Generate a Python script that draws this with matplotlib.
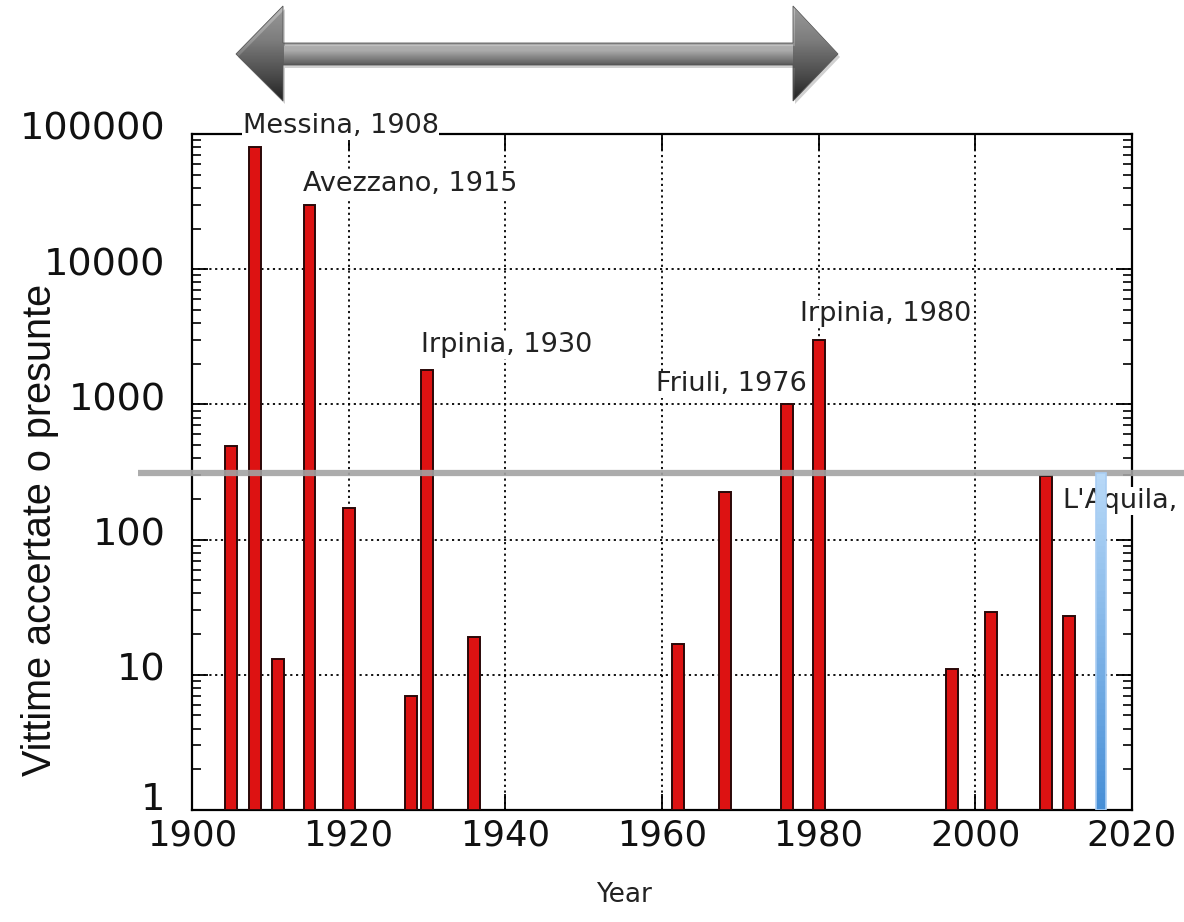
import numpy as np
import matplotlib
matplotlib.use("Agg")
import matplotlib.pyplot as plt
from matplotlib.patches import Polygon
from matplotlib.transforms import blended_transform_factory, ScaledTranslation
from matplotlib.ticker import LogLocator, NullFormatter, FixedLocator

# ---------------- data ----------------
years = [1905, 1908, 1911, 1915, 1920, 1928, 1930, 1936, 1962, 1968,
         1976, 1980, 1997, 2002, 2009, 2012]
victims = [490, 80000, 13, 30000, 170, 7, 1800, 19, 17, 225,
           1000, 3000, 11, 29, 295, 27]

recent_year = 2016
recent_victims = 310
threshold = 310

label_names = ["Messina, 1908", "Avezzano, 1915", "Irpinia, 1930",
               "Friuli, 1976", "Irpinia, 1980", "L'Aquila,"]
label_years = [1908, 1915, 1930, 1976, 1980, 2009]

x_ticks = [1900, 1920, 1940, 1960, 1980, 2000, 2020]
y_ticks = [1, 10, 100, 1000, 10000, 100000]
y_ticklabels = ["1", "10", "100", "1000", "10000", "100000"]

# ---------------- figure ----------------
W, H = 1184, 922
fig = plt.figure(figsize=(W / 100, H / 100), dpi=100)
ax = fig.add_axes([192 / W, 1 - 810 / H, (1132 - 192) / W, (810 - 134) / H])

ax.set_yscale("log")
ax.set_xlim(1900, 2020)
ax.set_ylim(1, 100000)

# red bars
ax.bar(years, [v - 1 for v in victims], bottom=1, width=1.5,
       color="#dd1212", edgecolor="#2a0808", linewidth=1.4, zorder=3)

# blue gradient bar (recent event)
n_seg = 60
edges = np.logspace(0, np.log10(recent_victims), n_seg + 1)
c_bot = np.array([0.28, 0.56, 0.84])
c_top = np.array([0.72, 0.85, 0.97])
for i in range(n_seg):
    t = i / (n_seg - 1)
    col = c_bot * (1 - t) + c_top * t
    ax.bar([recent_year], [edges[i + 1] - edges[i]], bottom=edges[i], width=1.3,
           color=col, linewidth=0, zorder=6)
ax.bar([recent_year], [recent_victims - 1], bottom=1, width=1.3,
       facecolor="none", edgecolor="#a9cdf3", linewidth=1.2, zorder=6.1)

# grey threshold line, extending beyond the axes to the figure edge
trans = blended_transform_factory(fig.transFigure, ax.transData)
ax.plot([138 / W, 1.0], [threshold, threshold], transform=trans, color="#a3a3a3",
        linewidth=4.5, alpha=0.9, solid_capstyle="butt", clip_on=False, zorder=5)

# grid
ax.xaxis.set_major_locator(FixedLocator(x_ticks))
ax.yaxis.set_major_locator(FixedLocator(y_ticks))
ax.yaxis.set_minor_locator(LogLocator(base=10, subs=np.arange(2, 10)))
ax.yaxis.set_minor_formatter(NullFormatter())
ax.set_yticklabels(y_ticklabels)
ax.set_xticklabels([str(t) for t in x_ticks])
ax.grid(True, which="major", linestyle=(0, (1.2, 2.0)), color="black",
        linewidth=1.3, zorder=1)
ax.set_axisbelow(True)

for sp in ax.spines.values():
    sp.set_linewidth(1.6)

ax.tick_params(axis="both", which="major", direction="in", length=11.5, width=1.3,
               top=True, right=True)
ax.tick_params(axis="both", which="minor", direction="in", length=6.5, width=1.2,
               top=False, right=True)
ax.tick_params(axis="y", which="major", pad=19)
ax.tick_params(axis="x", which="major", pad=6)
for lab in ax.get_yticklabels():
    lab.set_fontfamily("DejaVu Sans")
    lab.set_fontsize(27.5)
    lab.set_color("#111111")
    up = 14 if lab.get_text() == "1" else 8
    lab.set_transform(lab.get_transform() +
                      ScaledTranslation(0, up / 100, fig.dpi_scale_trans))
for lab in ax.get_xticklabels():
    lab.set_fontfamily("DejaVu Sans")
    lab.set_fontsize(25.5)
    lab.set_color("#111111")

# annotations
vals = dict(zip(years, victims))
offsets = {
    "Messina, 1908": (-12, 21, "left"),
    "Avezzano, 1915": (-6, 21, "left"),
    "Irpinia, 1930": (-6, 25, "left"),
    "Friuli, 1976": (20, 20, "right"),
    "Irpinia, 1980": (-19, 26, "left"),
    "L'Aquila,": (17, -25, "left"),
}
for name, yr in zip(label_names, label_years):
    dx, dy, ha = offsets[name]
    ax.annotate(name, xy=(yr, vals[yr]), xytext=(dx, dy), textcoords="offset pixels",
                ha=ha, va="center", fontsize=19.5, family="DejaVu Sans",
                color="#222222", zorder=5.5, annotation_clip=False,
                bbox=dict(facecolor="white", edgecolor="none", pad=0.5))

# axis titles
fig.text(40 / W, 1 - 530 / H, "Vittime accertate o presunte", rotation=90,
         ha="center", va="center", fontsize=28.5,
         family=["Liberation Sans", "DejaVu Sans"], color="#111111")
fig.text(624 / W, 1 - 895 / H, "Year", ha="center", va="center", fontsize=19,
         family="DejaVu Sans", color="#222222")

# decorative double arrow on top
oax = fig.add_axes([0, 0, 1, 1], zorder=-1)
oax.set_xlim(0, W)
oax.set_ylim(H, 0)
oax.axis("off")
pts = [(236, 54), (283, 6), (283, 43), (793, 43), (793, 6), (838, 54),
       (793, 101), (793, 65), (283, 65), (283, 101)]
shadow = Polygon([(x + 2, y + 3) for x, y in pts], closed=True,
                 facecolor="#000000", alpha=0.18, edgecolor="none")
oax.add_patch(shadow)
poly = Polygon(pts, closed=True, facecolor="none", edgecolor="#555555", linewidth=0.6)
oax.add_patch(poly)
xs = np.arange(230, 846)
ys = np.arange(0, 110)
head_prof = np.interp(ys, [6, 40, 54, 75, 101], [0.74, 0.60, 0.50, 0.36, 0.16])
shaft_prof = np.interp(ys, [43, 46, 50, 56, 62, 65], [0.58, 0.84, 0.82, 0.66, 0.50, 0.40])
head_mask = (xs < 284) | (xs > 792)
img = np.where(head_mask[None, :], head_prof[:, None], shaft_prof[:, None])
im = oax.imshow(img, cmap="gray", vmin=0, vmax=1, extent=(230, 846, 110, 0),
                aspect="auto", interpolation="bilinear")
clip = Polygon(pts, closed=True, transform=oax.transData)
im.set_clip_path(clip)

fig.savefig("out.png", dpi=100)
